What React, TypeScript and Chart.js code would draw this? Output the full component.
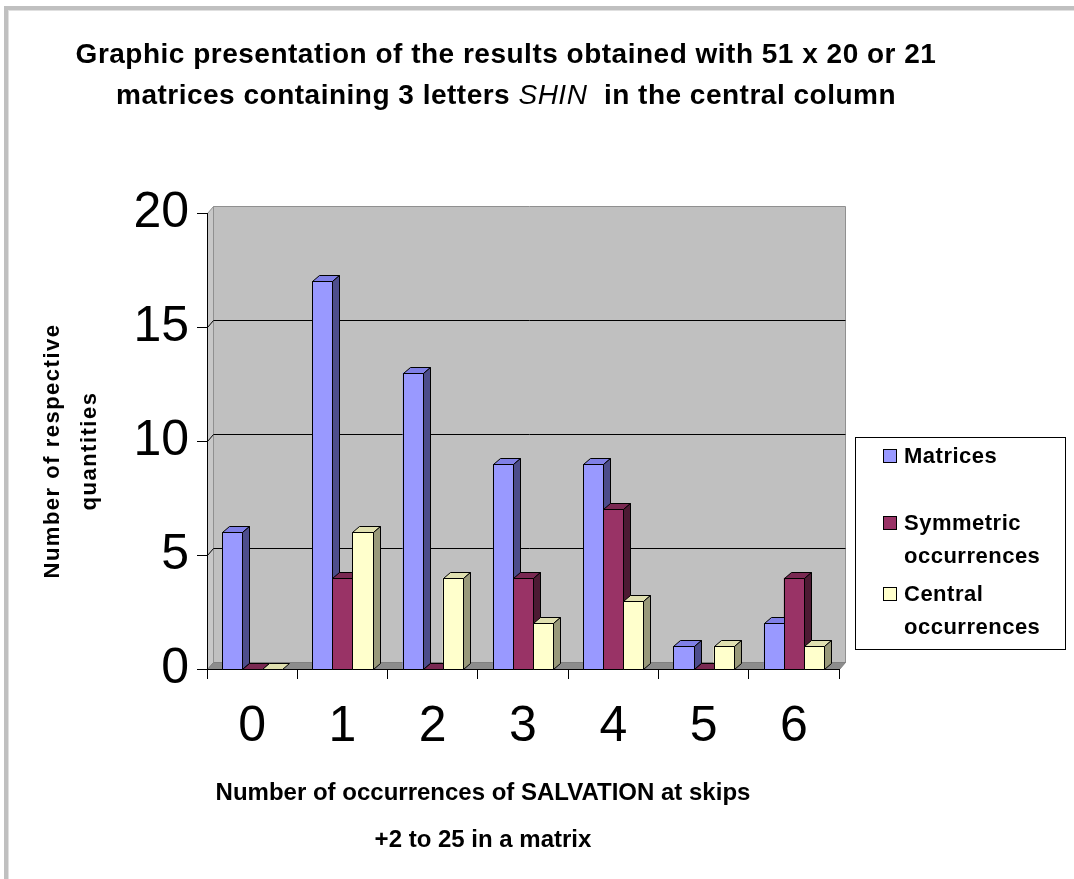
import { useEffect, useRef } from 'react';
import { Chart, registerables } from 'chart.js';

Chart.register(...registerables);

const categories = ['0', '1', '2', '3', '4', '5', '6'];
const matricesValues = [6, 17, 13, 9, 9, 1, 2];
const symmetricValues = [0, 4, 0, 4, 7, 0, 4];
const centralValues = [0, 6, 4, 2, 3, 1, 1];
const seriesLabels = [['Matrices'], ['Symmetric', 'occurrences'], ['Central', 'occurrences']];
const titleLine1 = 'Graphic presentation of the results obtained with 51 x 20 or 21';
const titleLine2 = [
  { text: 'matrices containing 3 letters ', italic: false },
  { text: 'SHIN', italic: true },
  { text: '  in the central column', italic: false },
];
const yTitleLines = ['Number of respective', 'quantities'];
const xTitleLines = ['Number of occurrences of SALVATION at skips', '+2 to 25 in a matrix'];

const FONT = '"Liberation Sans", Arial, sans-serif';
const fronts = ['#9999ff', '#993366', '#ffffcc'];
const tops = ['#8080e6', '#7a2952', '#e0e0b0'];
const sides = ['#4d4d8c', '#4d1a33', '#99997a'];
const BAR_DX = 7;
const BAR_DY = 6;
const WALL_DX = 6;
const WALL_DY = 7;

function poly(ctx: CanvasRenderingContext2D, pts: number[][], fill: string, stroke: string) {
  ctx.beginPath();
  ctx.moveTo(pts[0][0], pts[0][1]);
  for (let i = 1; i < pts.length; i++) ctx.lineTo(pts[i][0], pts[i][1]);
  ctx.closePath();
  ctx.fillStyle = fill;
  ctx.fill();
  ctx.strokeStyle = stroke;
  ctx.lineWidth = 1;
  ctx.stroke();
}

const wallPlugin = {
  id: 'wall3d',
  beforeDraw(chart: any) {
    const ctx: CanvasRenderingContext2D = chart.ctx;
    const { left, right, top, bottom } = chart.chartArea;
    const y = chart.scales.y;
    ctx.save();
    // outer frame
    ctx.fillStyle = '#c0c0c0';
    ctx.fillRect(4, 6, 4, chart.height - 6);
    ctx.fillRect(4, 6, chart.width - 4, 4);
    ctx.fillStyle = '#e0e0e0';
    ctx.fillRect(8, 10, 1, chart.height - 10);
    ctx.fillRect(8, 10, chart.width - 8, 1);

    const L = Math.round(left) + 0.5;
    const R = Math.round(right) + 0.5;
    const T = Math.round(top) + 0.5;
    const B = Math.round(bottom) + 0.5;
    // back wall
    poly(ctx, [[L + WALL_DX, T - WALL_DY], [R + WALL_DX, T - WALL_DY], [R + WALL_DX, B - WALL_DY], [L + WALL_DX, B - WALL_DY]], '#c0c0c0', '#909090');
    // left side wall
    poly(ctx, [[L, T], [L + WALL_DX, T - WALL_DY], [L + WALL_DX, B - WALL_DY], [L, B]], '#c8c8c8', '#909090');
    // floor
    poly(ctx, [[L, B], [L + WALL_DX, B - WALL_DY], [R + WALL_DX, B - WALL_DY], [R, B]], '#8c8c8c', '#808080');
    // gridlines
    ctx.strokeStyle = '#000';
    ctx.lineWidth = 1;
    y.ticks.forEach((t: any) => {
      if (t.value <= y.min || t.value >= y.max) return;
      const py = Math.round(y.getPixelForValue(t.value)) + 0.5;
      ctx.beginPath();
      ctx.moveTo(L, py);
      ctx.lineTo(L + WALL_DX, py - WALL_DY);
      ctx.lineTo(R + WALL_DX, py - WALL_DY);
      ctx.stroke();
    });
    ctx.restore();
  },
  afterDatasetsDraw(chart: any) {
    const ctx: CanvasRenderingContext2D = chart.ctx;
    const metas = chart.data.datasets.map((_: any, i: number) => chart.getDatasetMeta(i));
    ctx.save();
    for (let j = 0; j < categories.length; j++) {
      metas.forEach((meta: any, i: number) => {
        const el = meta.data[j];
        if (!el) return;
        const { x, y, base, width } = el.getProps(['x', 'y', 'base', 'width'], true);
        const l = Math.round(x - width / 2) + 0.5;
        const r = Math.round(x + width / 2) + 0.5;
        const t = Math.round(y) + 0.5;
        const b = Math.round(base) + 0.5;
        if (b > t) poly(ctx, [[l, t], [r, t], [r, b], [l, b]], fronts[i], '#000');
        poly(ctx, [[l, t], [l + BAR_DX, t - BAR_DY], [r + BAR_DX, t - BAR_DY], [r, t]], tops[i], '#000');
        if (b > t) poly(ctx, [[r, t], [r + BAR_DX, t - BAR_DY], [r + BAR_DX, b - BAR_DY], [r, b]], sides[i], '#000');
      });
    }
    ctx.restore();
  },
  afterDraw(chart: any) {
    const ctx: CanvasRenderingContext2D = chart.ctx;
    ctx.save();
    ctx.fillStyle = '#000';
    ctx.textBaseline = 'alphabetic';
    // title
    const cx = 506;
    ctx.font = `bold 28px ${FONT}`;
    (ctx as any).letterSpacing = '0.5px';
    ctx.textAlign = 'center';
    ctx.fillText(titleLine1, cx, 63);
    ctx.textAlign = 'left';
    const segFont = (s: any) => (s.italic ? `italic 28px ${FONT}` : `bold 28px ${FONT}`);
    let total = 0;
    titleLine2.forEach((s) => {
      ctx.font = segFont(s);
      total += ctx.measureText(s.text).width;
    });
    let sx = cx - total / 2;
    titleLine2.forEach((s) => {
      ctx.font = segFont(s);
      ctx.fillText(s.text, sx, 104);
      sx += ctx.measureText(s.text).width;
    });

    // x title
    ctx.font = `bold 24px ${FONT}`;
    (ctx as any).letterSpacing = '0px';
    ctx.textAlign = 'center';
    ctx.fillText(xTitleLines[0], 483, 800);
    ctx.fillText(xTitleLines[1], 483, 847);

    // y title
    ctx.save();
    ctx.translate(53, 451);
    ctx.rotate(-Math.PI / 2);
    ctx.font = `bold 22px ${FONT}`;
    (ctx as any).letterSpacing = '1.5px';
    ctx.textBaseline = 'middle';
    ctx.fillText(yTitleLines[0], 0, 0);
    ctx.restore();
    ctx.save();
    ctx.translate(90, 451);
    ctx.rotate(-Math.PI / 2);
    ctx.font = `bold 22px ${FONT}`;
    (ctx as any).letterSpacing = '1.5px';
    ctx.textBaseline = 'middle';
    ctx.fillText(yTitleLines[1], 0, 0);
    ctx.restore();

    // legend
    const lx = 855.5, ly = 437.5, lw = 210, lh = 212;
    ctx.fillStyle = '#fff';
    ctx.fillRect(lx, ly, lw, lh);
    ctx.strokeStyle = '#000';
    ctx.lineWidth = 1;
    ctx.strokeRect(lx, ly, lw, lh);
    const itemBase = [463, 530, 601];
    ctx.font = `bold 22px ${FONT}`;
    (ctx as any).letterSpacing = '0.5px';
    ctx.textAlign = 'left';
    ctx.textBaseline = 'alphabetic';
    chart.data.datasets.forEach((ds: any, i: number) => {
      const by = itemBase[i];
      ctx.fillStyle = fronts[i];
      ctx.fillRect(883.5, by - 13.5, 13, 13);
      ctx.strokeStyle = '#000';
      ctx.strokeRect(883.5, by - 13.5, 13, 13);
      ctx.fillStyle = '#000';
      ds.legendLines.forEach((line: string, k: number) => {
        ctx.fillText(line, 904, by + k * 33);
      });
    });
    ctx.restore();
  },
};

export default function App() {
  const ref = useRef<HTMLCanvasElement>(null);
  useEffect(() => {
    const canvas = ref.current;
    if (!canvas) return;
    const tickFont = { family: FONT, size: 50 };
    const chart = new Chart(canvas, {
      type: 'bar',
      data: {
        labels: categories,
        datasets: [
          { label: 'Matrices', data: matricesValues, backgroundColor: fronts[0], legendLines: seriesLabels[0] } as any,
          { label: 'Symmetric occurrences', data: symmetricValues, backgroundColor: fronts[1], legendLines: seriesLabels[1] } as any,
          { label: 'Central occurrences', data: centralValues, backgroundColor: fronts[2], legendLines: seriesLabels[2] } as any,
        ],
      },
      options: {
        responsive: false,
        animation: false,
        events: [],
        datasets: { bar: { categoryPercentage: 0.667, barPercentage: 1, borderWidth: 0 } },
        layout: { padding: { left: 0, top: 213, right: 235, bottom: 0 } },
        plugins: { legend: { display: false }, title: { display: false }, tooltip: { enabled: false } },
        scales: {
          x: {
            grid: { drawOnChartArea: false, drawTicks: true, tickLength: 10, color: '#000', offset: true },
            border: { display: true, color: '#000' },
            ticks: { font: tickFont, color: '#000', padding: 18, maxRotation: 0 },
            afterFit: (s: any) => { s.height = 210; },
          },
          y: {
            min: 0,
            max: 20,
            grid: { drawOnChartArea: false, drawTicks: true, tickLength: 10, color: '#000' },
            border: { display: true, color: '#000' },
            ticks: { stepSize: 5, font: tickFont, color: '#000', padding: 8 },
            afterFit: (s: any) => { s.width = 207; },
          },
        },
      },
      plugins: [wallPlugin],
    });
    return () => chart.destroy();
  }, []);
  return (
    <div style={{ position: 'fixed', left: 0, top: 0, width: 1074, height: 879, background: '#fff' }}>
      <canvas ref={ref} width={1074} height={879} style={{ display: 'block' }} />
    </div>
  );
}
